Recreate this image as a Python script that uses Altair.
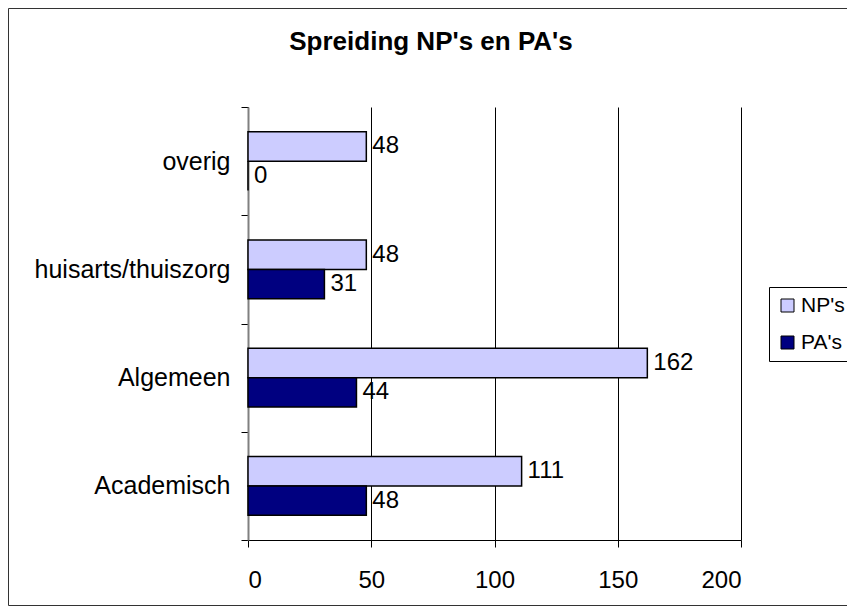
import altair as alt
import pandas as pd

# ---- data ----
categories = ["overig", "huisarts/thuiszorg", "Algemeen", "Academisch"]
np_values = [48, 48, 162, 111]
pa_values = [0, 31, 44, 48]
series = ["NP's", "PA's"]
series_colors = ["#CCCCFF", "#000080"]
x_ticks = [0, 50, 100, 150, 200]
title_text = "Spreiding NP's en PA's"

rows = []
for c, n, p in zip(categories, np_values, pa_values):
    rows.append({"cat": c, "series": series[0], "value": n})
    rows.append({"cat": c, "series": series[1], "value": p})
df = pd.DataFrame(rows)

W, H = 493, 433
FONT = "Liberation Sans"

y = alt.Y(
    "cat:N", sort=categories, title=None,
    scale=alt.Scale(paddingInner=0, paddingOuter=0),
    axis=alt.Axis(labelFont=FONT, labelFontSize=25, labelColor="black", labelPadding=11,
                  labelLimit=400,
                  tickBand="extent", tickSize=7, tickColor="black", tickWidth=1,
                  domainColor="#808080", domainWidth=2, grid=False),
)
x = alt.X(
    "value:Q", title=None, scale=alt.Scale(domain=[0, 200], nice=False),
    axis=alt.Axis(values=x_ticks, labelFont=FONT, labelFontSize=24, labelColor="black",
                  labelPadding=21, tickSize=7, tickColor="black", tickWidth=1,
                  domainColor="black", domainWidth=1,
                  grid=True, gridColor="black", gridWidth=1),
)
yoff = alt.YOffset("series:N", sort=series,
                   scale=alt.Scale(paddingInner=0, paddingOuter=0.835))
color = alt.Color(
    "series:N", sort=series,
    scale=alt.Scale(domain=series, range=series_colors),
    legend=alt.Legend(title=None, orient="none", legendX=521, legendY=180,
                      strokeColor="black", fillColor="white", padding=8,
                      symbolType="square", symbolSize=169, symbolStrokeColor="black",
                      symbolStrokeWidth=1, labelFont=FONT, labelFontSize=21,
                      labelColor="black", labelOffset=3, rowPadding=15),
)

bars = alt.Chart(df).mark_bar(stroke="black", strokeWidth=1.5).encode(
    x=x, y=y, yOffset=yoff, color=color
)
labels = alt.Chart(df).mark_text(
    align="left", baseline="middle", dx=6, font=FONT, fontSize=24, color="black"
).encode(
    x=alt.X("value:Q"), y=alt.Y("cat:N", sort=categories), yOffset=yoff, text="value:Q"
)
border = alt.Chart(pd.DataFrame({"a": [0]})).mark_rect(
    fill="transparent", stroke="#333333", strokeWidth=1
).encode(
    x=alt.value(-239.5), x2=alt.value(700), y=alt.value(-98.5), y2=alt.value(498.5)
)
title = alt.Chart(pd.DataFrame({"t": [title_text]})).mark_text(
    align="center", baseline="alphabetic", font=FONT, fontSize=26, fontWeight="bold",
    color="black"
).encode(x=alt.value(183), y=alt.value(-57.5), text="t:N")

chart = alt.layer(border, bars, labels, title).properties(
    width=W, height=H,
    autosize=alt.AutoSizeParams(type="none"),
    padding={"left": 240, "top": 99, "right": 106, "bottom": 67},
).configure_view(stroke=None)

chart.save("out.html", embed_options={"renderer": "svg", "actions": False})
